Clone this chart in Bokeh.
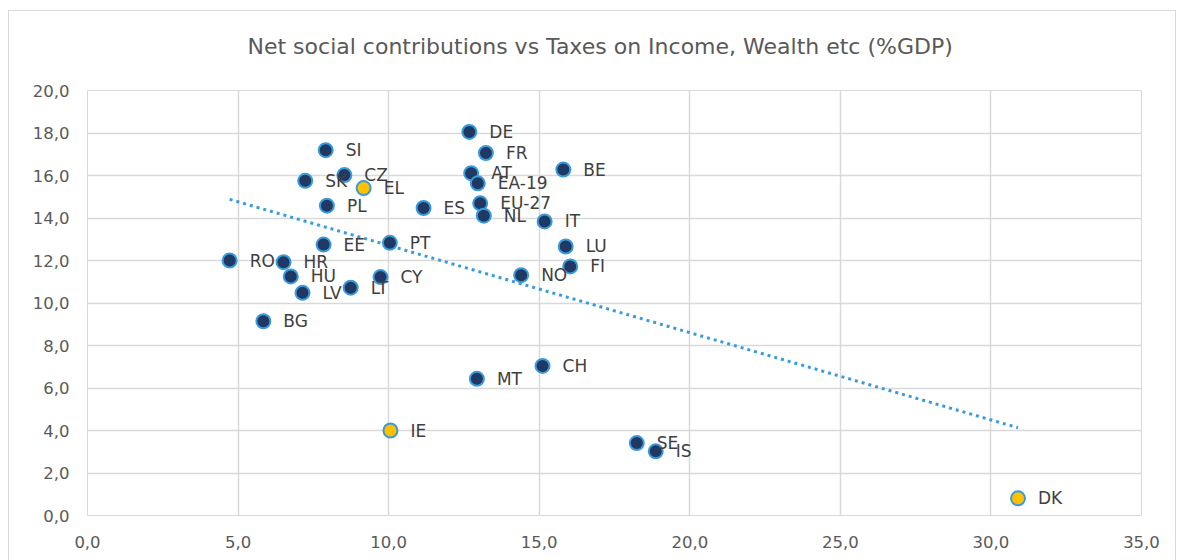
import numpy as np
from bokeh.plotting import figure
from bokeh.models import ColumnDataSource, FixedTicker, Range1d
from bokeh.core.properties import value
from bokeh.embed import file_html
from bokeh.resources import INLINE

countries = ["DE", "FR", "SI", "SK", "CZ", "EL", "PL", "ES", "AT", "EA-19", "EU-27", "NL",
             "IT", "BE", "LU", "FI", "EE", "PT", "RO", "HR", "HU", "CY", "LT", "LV", "NO",
             "BG", "CH", "MT", "IE", "SE", "IS", "DK"]
taxes_income = [12.68, 13.23, 7.91, 7.23, 8.53, 9.17, 7.95, 11.16, 12.74, 12.96, 13.04, 13.16,
                15.18, 15.80, 15.88, 16.03, 7.84, 10.04, 4.72, 6.51, 6.75, 9.73, 8.74, 7.14, 14.40,
                5.84, 15.11, 12.93, 10.06, 18.24, 18.87, 30.90]
social_contrib = [18.05, 17.06, 17.19, 15.75, 16.02, 15.41, 14.58, 14.47, 16.11, 15.63, 14.69, 14.11,
                  13.84, 16.28, 12.66, 11.72, 12.75, 12.83, 12.00, 11.92, 11.25, 11.22, 10.72, 10.48, 11.31,
                  9.14, 7.04, 6.43, 4.00, 3.41, 3.02, 0.81]
highlighted = ["EL", "IE", "DK"]

x_ticks = [0, 5, 10, 15, 20, 25, 30, 35]
x_tick_labels = ["0,0", "5,0", "10,0", "15,0", "20,0", "25,0", "30,0", "35,0"]
y_ticks = [0, 2, 4, 6, 8, 10, 12, 14, 16, 18, 20]
y_tick_labels = ["0,0", "2,0", "4,0", "6,0", "8,0", "10,0", "12,0", "14,0", "16,0", "18,0", "20,0"]
title_text = "Net social contributions vs Taxes on Income, Wealth etc (%GDP)"

NAVY = "#203864"
BLUE = "#3A9BDC"
YELLOW = "#FFC000"
GRID = "#d9d9d9"
TEXT = "#595959"
FONT = "DejaVu Sans"

fills = [YELLOW if c in highlighted else NAVY for c in countries]
src = ColumnDataSource(dict(x=taxes_income, y=social_contrib, name=countries, fill=fills))

p = figure(width=1184, height=560, output_backend="svg", toolbar_location=None,
           x_range=Range1d(0, 35), y_range=Range1d(0, 20),
           min_border_left=87, min_border_right=43, min_border_top=90, min_border_bottom=45)
p.border_fill_color = None
p.background_fill_color = "white"
frame_line = "linear-gradient(#d9d9d9, #d9d9d9)"
p.styles = {
    "background": (f"{frame_line} 8px 10px / 1168px 1px no-repeat, "
                   f"{frame_line} 8px 10px / 1px 560px no-repeat, "
                   f"{frame_line} 1175px 10px / 1px 560px no-repeat, white"),
}

p.title.text = title_text
p.title.align = "left"
p.title.offset = 160
p.title.standoff = 60
p.title.vertical_align = "top"
p.title.text_font = FONT
p.title.text_font_size = "22px"
p.title.text_font_style = "normal"
p.title.text_color = TEXT

p.outline_line_color = GRID
for ax in (p.xaxis, p.yaxis):
    ax.axis_line_color = None
    ax.major_tick_line_color = None
    ax.minor_tick_line_color = None
    ax.major_label_text_font = FONT
    ax.major_label_text_font_size = "16.5px"
    ax.major_label_text_color = TEXT
p.xaxis.ticker = FixedTicker(ticks=x_ticks)
p.yaxis.ticker = FixedTicker(ticks=y_ticks)
p.xaxis.major_label_overrides = {t: l for t, l in zip(x_ticks, x_tick_labels)}
p.yaxis.major_label_overrides = {t: l for t, l in zip(y_ticks, y_tick_labels)}
p.xaxis.major_label_standoff = 14
p.yaxis.major_label_standoff = 12
p.xgrid.ticker = FixedTicker(ticks=x_ticks)
p.ygrid.ticker = FixedTicker(ticks=y_ticks)
p.grid.grid_line_color = GRID
p.grid.grid_line_width = 1.5

# linear trend line
xs = np.array(taxes_income)
ys = np.array(social_contrib)
slope, intercept = np.polyfit(xs, ys, 1)
tx = [xs.min(), xs.max()]
ty = [slope * v + intercept for v in tx]
p.line(tx, ty, line_color=BLUE, line_width=3, line_dash="3 4")

p.scatter("x", "y", source=src, size=14, fill_color="fill", line_color=BLUE, line_width=2)
p.text("x", "y", text="name", source=src, x_offset=20, text_baseline="middle",
       text_font=value(FONT), text_font_size="17px", text_color="#404040")

open("out.html", "w").write(file_html(p, INLINE))
